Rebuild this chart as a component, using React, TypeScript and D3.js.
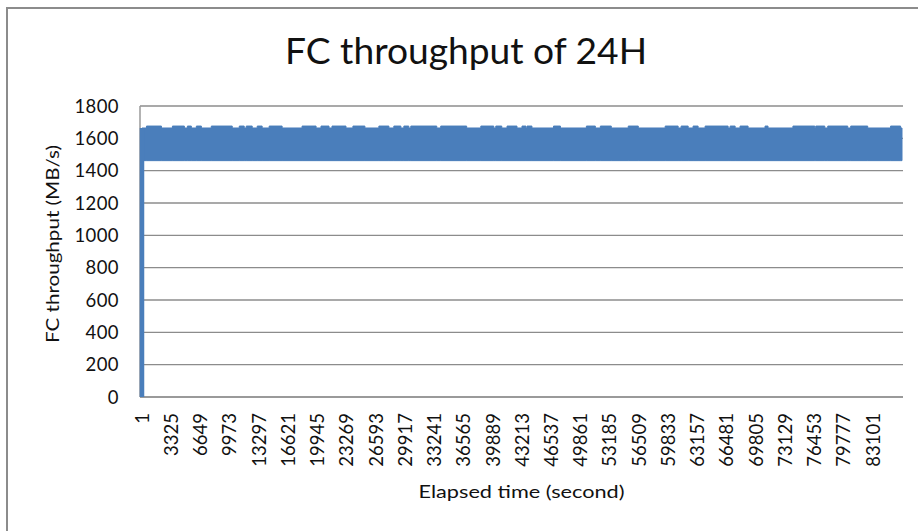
import React from "react";
import * as d3 from "d3";

const WIDTH = 918;
const HEIGHT = 531;
const MARGINS = { top: 106, right: 15, bottom: 134, left: 140 };

// elapsed seconds over the 24h run
const TOTAL_SECONDS = 86400;
const xTickLabels = [
  1, 3325, 6649, 9973, 13297, 16621, 19945, 23269, 26593, 29917, 33241, 36565,
  39889, 43213, 46537, 49861, 53185, 56509, 59833, 63157, 66481, 69805, 73129,
  76453, 79777, 83101,
];
const yTicks = [0, 200, 400, 600, 800, 1000, 1200, 1400, 1600, 1800];

// start-up: first sample at 0 MB/s, then jumps into steady state
const startupSeconds = [1, 2];
const startupMBs = [0, 1664];

// steady state band (the line oscillates between floor and ceiling)
const floorMBs = 1462;
const ceilingMBs = 1664;
const burstMBs = 1676;

// windows where the peaks reach a little higher
const burstStart = [
  510, 3460, 5160, 6180, 7880, 11060, 11850, 13100, 14460, 18200, 20350, 21600,
  23980, 26930, 28630, 29770, 30560, 33960, 38520, 40220, 41500, 43200, 43770,
  46780, 50520, 52110, 55280, 59480, 61290, 62650, 64020, 66860, 67990, 70830,
  74000, 76600, 77960, 80570, 85100,
];
const burstEnd = [
  2210, 4820, 5610, 6750, 10260, 11620, 12530, 13660, 15930, 19790, 21260,
  23190, 25340, 28070, 29430, 30330, 33510, 36910, 39990, 40900, 42630, 43650,
  44330, 47570, 51540, 53350, 56420, 60950, 62090, 63220, 66630, 67430, 68900,
  71170, 76490, 77620, 80230, 82500, 86240,
];

const BLUE = "#4a7ebb";
const GRID = "#8c8c8c";
const FONT = "Lato, 'Open Sans', sans-serif";

const App = () => {
  const ref = React.useRef<SVGSVGElement>(null);

  React.useEffect(() => {
    const svg = d3.select(ref.current!);
    svg.selectAll("*").remove();

    const innerW = WIDTH - MARGINS.left - MARGINS.right;
    const innerH = HEIGHT - MARGINS.top - MARGINS.bottom;

    // chart frame (only top/left edges fall inside the picture)
    svg
      .append("rect")
      .attr("x", 7)
      .attr("y", 8)
      .attr("width", WIDTH + 10)
      .attr("height", HEIGHT + 10)
      .attr("fill", "white")
      .attr("stroke", "#8c8c8c")
      .attr("stroke-width", 2);

    svg
      .append("text")
      .attr("x", 466)
      .attr("y", 64)
      .attr("text-anchor", "middle")
      .attr("font-family", FONT)
      .attr("font-size", 36)
      .attr("textLength", 362)
      .attr("lengthAdjust", "spacingAndGlyphs")
      .attr("fill", "#111")
      .text("FC throughput of 24H");

    const g = svg
      .append("g")
      .attr("transform", `translate(${MARGINS.left}, ${MARGINS.top})`);

    const x = d3
      .scaleLinear()
      .domain([1, TOTAL_SECONDS])
      .range([2, innerW - 1]);
    const y = d3.scaleLinear().domain([0, 1800]).range([innerH, 0]);

    // gridlines
    g.selectAll("line.grid")
      .data(yTicks.filter((t) => t > 0))
      .enter()
      .append("line")
      .attr("class", "grid")
      .attr("x1", 0)
      .attr("x2", innerW)
      .attr("y1", (d) => y(d))
      .attr("y2", (d) => y(d))
      .attr("stroke", GRID)
      .attr("stroke-width", 1.3);

    // y tick labels
    g.selectAll("text.ytick")
      .data(yTicks)
      .enter()
      .append("text")
      .attr("class", "ytick")
      .attr("x", -21)
      .attr("y", (d) => y(d))
      .attr("dy", "0.36em")
      .attr("text-anchor", "end")
      .attr("font-family", FONT)
      .attr("font-size", 18.5)
      .attr("letter-spacing", 0.4)
      .attr("fill", "#111")
      .text((d) => d);

    // steady band: upper edge from the burst windows
    const upper: [number, number][] = [[1, ceilingMBs]];
    burstStart.forEach((s, i) => {
      upper.push([s, ceilingMBs], [s, burstMBs], [burstEnd[i], burstMBs], [burstEnd[i], ceilingMBs]);
    });
    upper.push([TOTAL_SECONDS, ceilingMBs]);

    const band = d3
      .area<[number, number]>()
      .x((d) => x(d[0]))
      .y0(y(floorMBs))
      .y1((d) => y(d[1]));

    g.append("path")
      .attr("d", band(upper)!)
      .attr("fill", BLUE)
      .attr("stroke", BLUE)
      .attr("stroke-width", 1);

    const line = d3
      .line<number>()
      .x((_, i) => x(startupSeconds[i]))
      .y((d) => y(d));

    // axes lines
    g.append("line")
      .attr("x1", 0)
      .attr("x2", innerW)
      .attr("y1", innerH)
      .attr("y2", innerH)
      .attr("stroke", "#9a9a9a")
      .attr("stroke-width", 2);
    g.append("line")
      .attr("x1", 0)
      .attr("x2", 0)
      .attr("y1", 0)
      .attr("y2", innerH)
      .attr("stroke", "#9a9a9a")
      .attr("stroke-width", 1.5);

    // start-up spike drawn over the axis
    g.append("path")
      .attr("d", line(startupMBs)!)
      .attr("fill", "none")
      .attr("stroke", BLUE)
      .attr("stroke-width", 4.5);

    // x tick labels, rotated
    g.selectAll("text.xtick")
      .data(xTickLabels)
      .enter()
      .append("text")
      .attr("class", "xtick")
      .attr("transform", (d) => `translate(${x(d)}, ${innerH + 16}) rotate(-90)`)
      .attr("dy", "0.36em")
      .attr("text-anchor", "end")
      .attr("font-family", FONT)
      .attr("font-size", 18.5)
      .attr("fill", "#111")
      .text((d) => d);

    svg
      .append("text")
      .attr("x", MARGINS.left + innerW / 2)
      .attr("y", 498)
      .attr("text-anchor", "middle")
      .attr("font-family", FONT)
      .attr("font-size", 18)
      .attr("textLength", 206)
      .attr("lengthAdjust", "spacingAndGlyphs")
      .attr("fill", "#111")
      .text("Elapsed time (second)");

    svg
      .append("text")
      .attr("transform", "translate(59, 244) rotate(-90)")
      .attr("text-anchor", "middle")
      .attr("font-family", FONT)
      .attr("font-size", 18)
      .attr("textLength", 198)
      .attr("lengthAdjust", "spacingAndGlyphs")
      .attr("fill", "#111")
      .text("FC throughput (MB/s)");
  }, []);

  return (
    <svg
      ref={ref}
      width={WIDTH}
      height={HEIGHT}
      style={{ position: "absolute", left: 0, top: 0, background: "white" }}
    />
  );
};

export default App;
